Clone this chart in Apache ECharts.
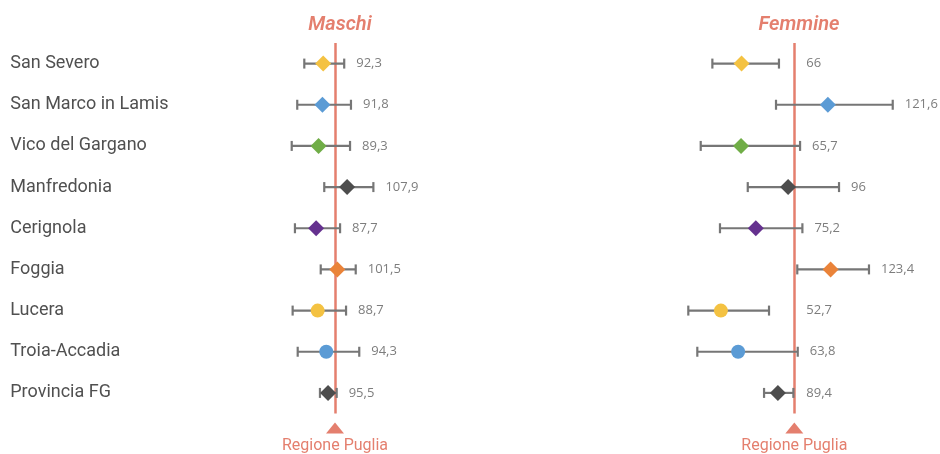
<!DOCTYPE html>
<html>
<head>
<meta charset="utf-8">
<script src="https://cdn.jsdelivr.net/npm/echarts@6/dist/echarts.min.js"></script>
<style>html,body{margin:0;padding:0;background:#fff}#c{width:940px;height:454px}</style>
</head>
<body>
<div id="c"></div>
<script>
const categories = ['San Severo','San Marco in Lamis','Vico del Gargano','Manfredonia','Cerignola','Foggia','Lucera','Troia-Accadia','Provincia FG'];
const maschiValue = [92.3, 91.8, 89.3, 107.9, 87.7, 101.5, 88.7, 94.3, 95.5];
const maschiLow   = [80, 75.4, 71.8, 93.0, 73.9, 90.7, 72.4, 75.7, 90.2];
const maschiHigh  = [106, 110.4, 109.8, 125.0, 103.3, 113.5, 107.2, 115.8, 101.1];
const femmineValue = [66, 121.6, 65.7, 96, 75.2, 123.4, 52.7, 63.8, 89.4];
const femmineLow   = [47.2, 88.2, 39.7, 70.0, 52.1, 101.9, 31.7, 37.5, 80.5];
const femmineHigh  = [90.1, 163.4, 103.7, 128.8, 105.2, 148.1, 83.7, 102.2, 99.4];
const referenceValue = 100;
const referenceLabel = 'Regione Puglia';
const panelTitles = ['Maschi', 'Femmine'];

const markerColors = ['#F4C242','#5B9BD5','#70AD47','#4D4D4D','#65318F','#EA8339','#F4C242','#5B9BD5','#4D4D4D'];
const markerShapes = ['diamond','diamond','diamond','diamond','diamond','diamond','circle','circle','diamond'];

const ACCENT = '#E47F6E';
const BAR = '#767676';

function fmt(v){ return String(v).replace('.', ','); }

function makeRender(){
  return function(params, api){
    const i = api.value(0);
    const v = api.value(1), lo = api.value(2), hi = api.value(3);
    const pLo = api.coord([lo, i]);
    const pHi = api.coord([hi, i]);
    const pV = api.coord([v, i]);
    const y = pV[1];
    const cap = 5;
    const children = [
      {type:'line', shape:{x1:pLo[0], y1:y, x2:pHi[0], y2:y}, style:{stroke:BAR, lineWidth:2.2}},
      {type:'line', shape:{x1:pLo[0], y1:y-cap, x2:pLo[0], y2:y+cap}, style:{stroke:BAR, lineWidth:2.2}},
      {type:'line', shape:{x1:pHi[0], y1:y-cap, x2:pHi[0], y2:y+cap}, style:{stroke:BAR, lineWidth:2.2}}
    ];
    const col = markerColors[i];
    if (markerShapes[i] === 'circle') {
      children.push({type:'circle', shape:{cx:pV[0], cy:y, r:7}, style:{fill:col}});
    } else {
      const s = 8;
      children.push({type:'polygon', shape:{points:[[pV[0]-s,y],[pV[0],y-s],[pV[0]+s,y],[pV[0],y+s]]}, style:{fill:col}});
    }
    const anchor = api.coord([Math.max(hi, referenceValue), i])[0];
    children.push({type:'text', style:{x:anchor+12, y:y, text:fmt(v), fill:'#7d7d7d', font:'13px "Open Sans", sans-serif', textVerticalAlign:'middle', textAlign:'left'}});
    if (i === 0) {
      const band = api.size([0,1])[1];
      const pRef = api.coord([referenceValue, categories.length-1]);
      const bottom = pRef[1] + band/2;
      const cx = pRef[0];
      children.push({type:'polygon', shape:{points:[[cx-9,bottom+20],[cx,bottom+9],[cx+9,bottom+20]]}, style:{fill:ACCENT}});
      children.push({type:'text', style:{x:cx, y:bottom+32, text:referenceLabel, fill:ACCENT, font:'16px Roboto, sans-serif', textAlign:'center', textVerticalAlign:'middle'}});
    }
    return {type:'group', children};
  };
}

function seriesData(values, lows, highs){
  return values.map((v,i)=>[i, v, lows[i], highs[i]]);
}

const chart = echarts.init(document.getElementById('c'), null, {renderer:'canvas'});
const titleStyle = {color:ACCENT, fontSize:20, fontStyle:'italic', fontWeight:600, fontFamily:'Roboto, sans-serif'};
chart.setOption({
  animation:false,
  title:[
    {text:panelTitles[0], left:335, top:10, textAlign:'center', textStyle:titleStyle},
    {text:panelTitles[1], left:794, top:10, textAlign:'center', textStyle:titleStyle}
  ],
  grid:[
    {left:258.25, width:153.5, top:43, height:370.5},
    {left:639.1, width:279.4, top:43, height:370.5}
  ],
  xAxis:[
    {gridIndex:0, type:'value', min:50, max:150, interval:50, show:false},
    {gridIndex:1, type:'value', min:0, max:180, interval:100, show:false}
  ],
  yAxis:[
    {gridIndex:0, type:'category', data:categories, inverse:true, axisLine:{show:false}, axisTick:{show:false}, splitLine:{show:false},
     axisLabel:{align:'left', margin:248, color:'#505050', fontSize:18, fontFamily:'Roboto, sans-serif'}},
    {gridIndex:1, type:'category', data:categories, inverse:true, axisLine:{show:false}, axisTick:{show:false}, splitLine:{show:false}, axisLabel:{show:false}}
  ],
  series:[
    {type:'custom', xAxisIndex:0, yAxisIndex:0, data:seriesData(maschiValue, maschiLow, maschiHigh), renderItem:makeRender(), encode:{x:[1,2,3], y:0}, z:3,
     markLine:{silent:true, symbol:'none', label:{show:false}, lineStyle:{color:ACCENT, width:2.5, type:'solid'}, data:[{xAxis:referenceValue}], z:1}},
    {type:'custom', xAxisIndex:1, yAxisIndex:1, data:seriesData(femmineValue, femmineLow, femmineHigh), renderItem:makeRender(), encode:{x:[1,2,3], y:0}, z:3,
     markLine:{silent:true, symbol:'none', label:{show:false}, lineStyle:{color:ACCENT, width:2.5, type:'solid'}, data:[{xAxis:referenceValue}], z:1}}
  ]
});
</script>
</body>
</html>
